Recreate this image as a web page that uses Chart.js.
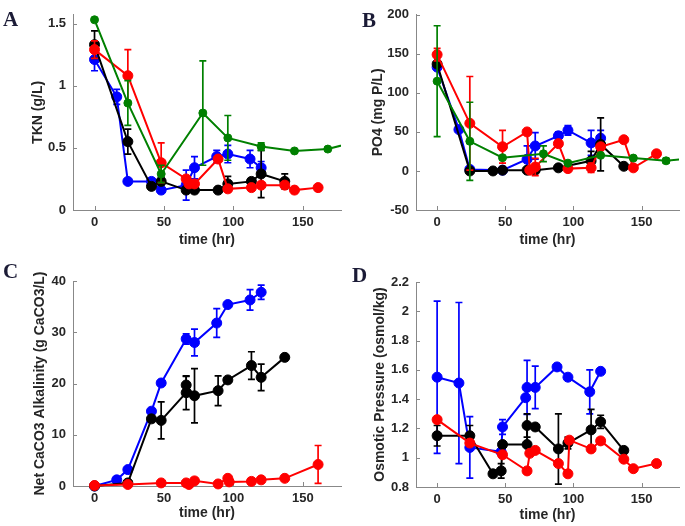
<!DOCTYPE html>
<html>
<head>
<meta charset="utf-8">
<script src="https://cdn.jsdelivr.net/npm/chart.js@4.4.0/dist/chart.umd.min.js"></script>
<style>
  html, body { margin: 0; padding: 0; background: #fff; }
  #wrap { position: relative; width: 685px; height: 526px; overflow: hidden; }
  #wrap canvas { position: absolute; left: 0; top: 0; }
  .tag { position: absolute; font: bold 21px "Liberation Serif", "Times New Roman", serif; line-height: 1; color: #1b1b36; }
</style>
</head>
<body>
<div id="wrap">
  <canvas id="cA" width="685" height="526"></canvas>
  <canvas id="cB" width="685" height="526"></canvas>
  <canvas id="cC" width="685" height="526"></canvas>
  <canvas id="cD" width="685" height="526"></canvas>
  <div class="tag" style="left:3px;top:9px">A</div>
  <div class="tag" style="left:362px;top:10px">B</div>
  <div class="tag" style="left:3px;top:261px">C</div>
  <div class="tag" style="left:352px;top:265px">D</div>
</div>
<script>
// ---- data ----
const xTicks = [0, 50, 100, 150];
const tknTicks = [0, 0.5, 1, 1.5];
const po4Ticks = [-50, 0, 50, 100, 150, 200];
const alkTicks = [0, 10, 20, 30, 40];
const osmTicks = [0.8, 1, 1.2, 1.4, 1.6, 1.8, 2, 2.2];

// A: TKN
const blueA_t = [0, 16, 24, 41, 48, 66, 72, 88, 96, 112, 120];
const blueA_y = [1.21, 0.91, 0.23, 0.23, 0.16, 0.2, 0.34, 0.43, 0.45, 0.41, 0.34];
const blueA_e = [0.09, 0.06, null, null, null, 0.12, 0.09, 0.05, 0.07, 0.07, 0.05];
const blackA_t = [0, 24, 41, 48, 66, 72, 89, 96, 113, 120, 137];
const blackA_y = [1.33, 0.55, 0.19, 0.23, 0.16, 0.16, 0.16, 0.21, 0.23, 0.29, 0.23];
const blackA_e = [0.11, 0.1, null, 0.03, null, null, null, 0.06, null, 0.19, 0.06];
const redA_t = [0, 24, 48, 66, 68, 72, 89, 96, 113, 120, 137, 144, 161];
const redA_y = [1.29, 1.08, 0.38, 0.25, 0.21, 0.21, 0.41, 0.17, 0.18, 0.2, 0.2, 0.16, 0.18];
const redA_e = [0.07, 0.21, 0.16, null, null, null, null, null, null, null, null, null, null];
const greenA_t = [0, 24, 48, 78, 96, 120, 144, 168, 192];
const greenA_y = [1.53, 0.86, 0.29, 0.78, 0.58, 0.51, 0.475, 0.49, 0.56];
const greenA_e = [null, 0.18, 0.07, 0.42, 0.18, 0.03, null, null, null];

// B: PO4
const blueB_t = [0, 16, 24, 48, 66, 72, 89, 96, 113, 120];
const blueB_y = [133, 53, 2, 1, 15, 32, 45, 52, 36, 42];
const blueB_e = [null, null, null, null, 17, 17, 5, 6, 16, 10];
const blackB_t = [0, 24, 41, 48, 66, 72, 89, 113, 120, 137];
const blackB_y = [137, 0, 0, 1, 1, 1, 4, 13, 34, 6];
const blackB_e = [null, null, null, null, null, null, null, 12, 34, null];
const redB_t = [0, 24, 48, 66, 68, 72, 89, 96, 113, 120, 137, 144, 161];
const redB_y = [149, 61, 31, 50, 1, 5, 35, 3, 4, 31, 40, 4, 22];
const redB_e = [8, 60, 21, null, null, 11, null, null, 6, null, null, null, null];
const greenB_t = [0, 24, 48, 78, 96, 120, 144, 168, 192];
const greenB_y = [115, 38, 17, 22, 10, 20, 16.5, 13, 17];
const greenB_e = [71, 50, null, 10, null, null, null, 3, null];

// C: alkalinity
const blueC_t = [0, 16, 24, 41, 48, 66, 72, 88, 96, 112, 120];
const blueC_y = [0, 1.2, 3.2, 14.6, 20.1, 28.7, 28, 31.8, 35.4, 36.3, 37.8];
const blueC_e = [null, null, null, null, null, 1, 2.6, 2.8, null, 2, 1.4];
const blackC_t = [0, 24, 41, 48, 66, 66, 72, 89, 96, 113, 120, 137];
const blackC_y = [0, 0.6, 13.1, 12.8, 18.2, 19.7, 17.6, 18.6, 20.7, 23.5, 21.2, 25.1];
const blackC_e = [null, null, null, 3.6, 3.3, 1.7, 5.3, 2.9, null, 2.7, 2.6, null];
const redC_t = [0, 24, 48, 66, 68, 72, 89, 96, 97, 113, 120, 137, 161];
const redC_y = [0.1, 0.3, 0.6, 0.6, 0.3, 1.0, 0.4, 1.5, 0.8, 0.9, 1.2, 1.5, 4.2];
const redC_e = [null, null, null, null, null, null, null, null, null, null, null, null, 3.7];

// D: osmotic pressure
const blueD_t = [0, 16, 24, 47, 48, 65, 66, 72, 88, 96, 112, 120];
const blueD_y = [1.55, 1.51, 1.07, 1.04, 1.21, 1.41, 1.48, 1.48, 1.62, 1.55, 1.45, 1.59];
const blueD_e = [0.52, 0.55, 0.21, null, 0.05, null, 0.185, 0.145, null, null, 0.15, null];
const blackD_t = [0, 24, 41, 47, 48, 66, 66, 72, 89, 96, 113, 120, 137];
const blackD_y = [1.15, 1.15, 0.89, 0.91, 1.09, 1.09, 1.22, 1.21, 1.06, 1.1, 1.19, 1.245, 1.05];
const blackD_e = [0.07, 0.07, null, 0.05, null, null, 0.08, null, 0.24, 0.04, 0.14, 0.045, null];
const redD_t = [0, 24, 48, 66, 68, 72, 89, 96, 97, 113, 120, 137, 144, 161];
const redD_y = [1.26, 1.1, 1.02, 0.91, 1.03, 1.05, 0.96, 0.89, 1.12, 1.06, 1.115, 0.99, 0.925, 0.96];

const BLUE = '#0000ff', BLACK = '#000000', RED = '#ff0000', GREEN = '#008000';
const FONT = '"Liberation Sans", Arial, Helvetica, sans-serif';
const W = 685, H = 526;

// error bars, drawn right after each dataset so layering follows dataset order
const errorBars = {
    id: 'errorBars',
    afterDatasetDraw(chart, args) {
        const ds = chart.data.datasets[args.index];
        if (!ds.errors) return;
        const y = chart.scales.y;
        const ctx = chart.ctx;
        ctx.save();
        ctx.strokeStyle = ds.borderColor;
        ctx.lineWidth = 1.7;
        args.meta.data.forEach((pt, i) => {
            const e = ds.errors[i];
            if (e == null) return;
            const v = ds.data[i].y;
            const top = y.getPixelForValue(v + e);
            const bot = y.getPixelForValue(v - e);
            ctx.beginPath();
            ctx.moveTo(pt.x, top); ctx.lineTo(pt.x, bot);
            ctx.moveTo(pt.x - 3.5, top); ctx.lineTo(pt.x + 3.5, top);
            ctx.moveTo(pt.x - 3.5, bot); ctx.lineTo(pt.x + 3.5, bot);
            ctx.stroke();
        });
        ctx.restore();
    }
};

// matlab-style ticks pointing into the plot
const innerTicks = {
    id: 'innerTicks',
    beforeDatasetsDraw(chart) {
        const {ctx, chartArea: a, scales: {x, y}} = chart;
        ctx.save();
        ctx.strokeStyle = '#888';
        ctx.lineWidth = 1;
        ctx.beginPath();
        x.ticks.forEach(t => {
            const px = Math.round(x.getPixelForValue(t.value)) + 0.5;
            ctx.moveTo(px, a.bottom); ctx.lineTo(px, a.bottom - 4);
        });
        y.ticks.forEach(t => {
            const py = Math.round(y.getPixelForValue(t.value)) + 0.5;
            ctx.moveTo(a.left, py); ctx.lineTo(a.left + 4, py);
        });
        ctx.stroke();
        ctx.restore();
    }
};

function series(t, v, e, color, order, radius) {
    return {
        data: t.map((x, i) => ({ x: x, y: v[i] })),
        errors: e,
        borderColor: color,
        backgroundColor: color,
        pointBackgroundColor: color,
        pointBorderColor: color,
        borderWidth: 2,
        pointRadius: radius,
        pointBorderWidth: 1,
        tension: 0,
        order: order,
        clip: { left: 10, top: 10, right: 0, bottom: 10 }
    };
}

function makePanel(id, p) {
    const [l, t, r, b] = p.area;
    const yw = 50;
    const lh = 14 * 1.2;
    const xh = p.xTitleY - b + lh / 2 + 2;
    new Chart(document.getElementById(id), {
        type: 'line',
        data: { datasets: p.datasets },
        options: {
            responsive: false,
            animation: false,
            events: [],
            layout: { padding: { left: l - yw, top: t, right: W - r, bottom: H - b - xh } },
            plugins: { legend: { display: false }, tooltip: { enabled: false } },
            scales: {
                x: {
                    type: 'linear',
                    min: -15.5,
                    max: 177.5,
                    grid: { display: false, drawTicks: false },
                    border: { display: true, color: '#888', width: 1 },
                    afterBuildTicks: s => { s.ticks = xTicks.map(v => ({ value: v })); },
                    afterFit: s => { s.height = xh; },
                    ticks: { padding: 5, color: '#262626', font: { family: FONT, size: 13, weight: 'bold' }, callback: v => String(v) },
                    title: { display: true, text: 'time (hr)', color: '#262626', padding: { top: 0, bottom: xh - (p.xTitleY - b) - lh / 2 }, font: { family: FONT, size: 14, weight: 'bold' } }
                },
                y: {
                    min: p.yMin,
                    max: p.yMax,
                    grid: { display: false, drawTicks: false },
                    border: { display: true, color: '#888', width: 1 },
                    afterBuildTicks: s => { s.ticks = p.yTicks.map(v => ({ value: v })); },
                    afterFit: s => { s.width = yw; },
                    ticks: { padding: 7, color: '#262626', font: { family: FONT, size: 13, weight: 'bold' }, callback: v => String(v) },
                    title: { display: true, text: p.yTitle, color: '#262626', padding: { top: p.yTitleX - (l - yw) - lh / 2, bottom: 0 }, font: { family: FONT, size: 14, weight: 'bold' } }
                }
            }
        },
        plugins: [innerTicks, errorBars]
    });
}

makePanel('cA', {
    area: [73, 3, 341, 210], yMin: 0, yMax: 1.57, yTicks: tknTicks,
    yTitle: 'TKN (g/L)', yTitleX: 38.3, xTitleY: 240.5,
    datasets: [
        series(blueA_t, blueA_y, blueA_e, BLUE, 3, 5),
        series(blackA_t, blackA_y, blackA_e, BLACK, 2, 5),
        series(redA_t, redA_y, redA_e, RED, 1, 5),
        series(greenA_t, greenA_y, greenA_e, GREEN, 0, 4)
    ]
});

makePanel('cB', {
    area: [416, 6, 685, 210], yMin: -50, yMax: 200, yTicks: po4Ticks,
    yTitle: 'PO4 (mg P/L)', yTitleX: 378.3, xTitleY: 240.5,
    datasets: [
        series(blueB_t, blueB_y, blueB_e, BLUE, 3, 5),
        series(blackB_t, blackB_y, blackB_e, BLACK, 2, 5),
        series(redB_t, redB_y, redB_e, RED, 1, 5),
        series(greenB_t, greenB_y, greenB_e, GREEN, 0, 4)
    ]
});

makePanel('cC', {
    area: [73, 281, 341, 486], yMin: 0, yMax: 40, yTicks: alkTicks,
    yTitle: 'Net CaCO3 Alkalinity (g CaCO3/L)', yTitleX: 40, xTitleY: 513,
    datasets: [
        series(blueC_t, blueC_y, blueC_e, BLUE, 3, 5),
        series(blackC_t, blackC_y, blackC_e, BLACK, 2, 5),
        series(redC_t, redC_y, redC_e, RED, 1, 5)
    ]
});

makePanel('cD', {
    area: [416, 282, 685, 487], yMin: 0.8, yMax: 2.2, yTicks: osmTicks,
    yTitle: 'Osmotic Pressure (osmol/kg)', yTitleX: 380, xTitleY: 515,
    datasets: [
        series(blueD_t, blueD_y, blueD_e, BLUE, 3, 5),
        series(blackD_t, blackD_y, blackD_e, BLACK, 2, 5),
        series(redD_t, redD_y, null, RED, 1, 5)
    ]
});
</script>
</body>
</html>
